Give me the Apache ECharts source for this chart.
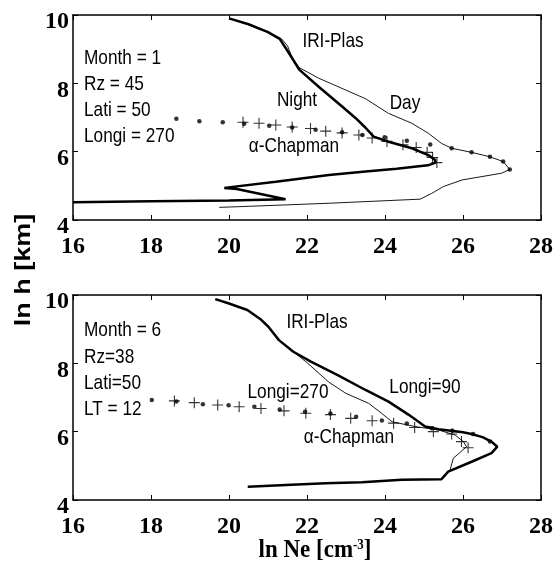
<!DOCTYPE html>
<html><head><meta charset="utf-8">
<script src="https://cdn.jsdelivr.net/npm/echarts@6/dist/echarts.min.js"></script>
<style>html,body{margin:0;padding:0;background:#fff}#c{width:556px;height:567px}</style>
</head><body><div id="c"></div>
<script>
// axis ticks
const xTicks = [16, 18, 20, 22, 24, 26, 28];
const yTicks = [4, 6, 8, 10];

// Top panel (Month = 1): IRI-Plas night (thick) and day (thin)
const topNight = [[20.0,9.9],[20.5,9.73],[21.0,9.5],[21.3,9.3],[21.54,8.88],[21.8,8.4],[22.3,7.9],[22.9,7.32],[23.25,6.98],[23.5,6.7],[23.71,6.44],[24.09,6.29],[24.69,6.1],[25.11,5.9],[25.28,5.76],[25.3,5.68],[25.1,5.6],[24.3,5.5],[23.5,5.42],[22.56,5.32],[21.2,5.12],[19.88,4.94],[20.2,4.91],[21.45,4.61],[20.0,4.57],[18.0,4.55],[16.0,4.52]];
const topDay = [[20.0,9.9],[20.5,9.73],[21.0,9.5],[21.35,9.3],[21.5,9.1],[21.62,8.75],[21.8,8.46],[22.3,8.15],[23.0,7.8],[23.5,7.55],[24.09,7.12],[24.69,6.83],[25.11,6.54],[25.45,6.24],[25.71,6.1],[26.22,5.98],[26.69,5.85],[27.03,5.71],[27.2,5.48],[26.99,5.37],[25.97,5.17],[25.5,4.98],[25.2,4.78],[24.9,4.61],[22.56,4.49],[20.26,4.39],[19.75,4.37]];
// Top panel alpha-Chapman: dots (day) and pluses (night)
const topDots = [[18.65,6.96],[19.24,6.89],[19.84,6.86],[20.39,6.82],[21.03,6.76],[21.62,6.71],[22.22,6.64],[22.9,6.57],[23.42,6.49],[23.99,6.42],[24.56,6.32],[25.16,6.21],[25.71,6.1],[26.22,5.98],[26.69,5.85],[27.03,5.71],[27.2,5.48]];
const topPlus = [[20.36,6.86],[20.77,6.83],[21.2,6.78],[21.62,6.72],[22.09,6.68],[22.48,6.6],[22.9,6.55],[23.33,6.49],[23.67,6.4],[24.05,6.3],[24.46,6.2],[24.8,6.12],[25.08,5.98],[25.22,5.83],[25.33,5.68]];

// Bottom panel (Month = 6): IRI-Plas Longi=90 (thick) and Longi=270 (thin)
const botL90 = [[19.65,9.88],[20.0,9.75],[20.47,9.56],[20.8,9.3],[21.01,9.07],[21.28,8.68],[21.65,8.34],[22.1,8.05],[22.8,7.65],[23.5,7.22],[24.09,6.88],[24.6,6.5],[25.03,6.15],[25.37,6.07],[26.0,5.98],[26.22,5.93],[26.5,5.84],[26.73,5.71],[26.88,5.56],[26.73,5.37],[26.22,5.12],[25.62,4.83],[25.45,4.61],[24.43,4.59],[23.41,4.52],[22.48,4.49],[21.46,4.44],[20.48,4.39]];
const botL270 = [[19.65,9.88],[20.0,9.75],[20.47,9.56],[20.8,9.3],[21.01,9.07],[21.28,8.68],[21.65,8.34],[22.0,8.02],[22.56,7.45],[23.0,7.12],[23.58,6.83],[23.9,6.55],[24.18,6.29],[24.77,6.15],[25.37,6.05],[25.8,5.9],[26.01,5.71],[26.09,5.56],[25.75,5.22],[25.67,4.88],[25.62,4.83]];
// Bottom panel alpha-Chapman
const botDots = [[18.02,6.93],[18.65,6.88],[19.33,6.8],[19.99,6.77],[20.65,6.73],[21.3,6.65],[21.95,6.58],[22.6,6.53],[23.26,6.44],[23.92,6.33],[24.56,6.24],[25.2,6.1],[25.73,6.03],[26.26,5.93],[26.69,5.71]];
const botPlus = [[18.6,6.9],[19.11,6.85],[19.71,6.78],[20.26,6.73],[20.82,6.68],[21.41,6.61],[21.97,6.54],[22.6,6.5],[23.12,6.39],[23.67,6.32],[24.22,6.25],[24.76,6.12],[25.24,6.0],[25.71,5.93],[25.96,5.71],[26.13,5.53]];

// annotation texts
const topInfo = ['Month = 1', 'Rz = 45', 'Lati = 50', 'Longi = 270'];
const botInfo = ['Month = 6', 'Rz=38', 'Lati=50', 'LT = 12'];

const chart = echarts.init(document.getElementById('c'), null, {renderer: 'canvas'});
const xMin = xTicks[0], xMax = xTicks[xTicks.length-1], xInt = xTicks[1]-xTicks[0];
const yMin = yTicks[0], yMax = yTicks[yTicks.length-1], yInt = yTicks[1]-yTicks[0];
const tickFont = {fontFamily: '"Liberation Serif", "Times New Roman", serif', fontWeight: 'bold', fontSize: 24, color: '#000'};

function xAx(grid, pos, labels) {
  return {type: 'value', gridIndex: grid, position: pos, min: xMin, max: xMax, interval: xInt,
    axisLine: {show: true, onZero: false, lineStyle: {color: '#000', width: 1.5}},
    axisTick: {show: true, inside: true, length: 5, lineStyle: {color: '#000', width: 1}},
    axisLabel: Object.assign({show: labels, margin: 15}, tickFont),
    splitLine: {show: false}};
}
function yAx(grid, pos, labels) {
  return {type: 'value', gridIndex: grid, position: pos, min: yMin, max: yMax, interval: yInt,
    axisLine: {show: true, onZero: false, lineStyle: {color: '#000', width: 1.5}},
    axisTick: {show: true, inside: true, length: 5, lineStyle: {color: '#000', width: 1}},
    axisLabel: Object.assign({show: labels, margin: 4, verticalAlign: 'top', lineHeight: 14}, tickFont),
    splitLine: {show: false}};
}
const plusPath = 'path://M9,0H11V9H20V11H11V20H9V11H0V9H9Z';
function line(data, xi, w) {
  return {type: 'line', xAxisIndex: xi, yAxisIndex: xi, data: data, symbol: 'none', smooth: false,
    lineStyle: {color: '#000', width: w}, z: 3};
}
function dots(data, xi) {
  return {type: 'scatter', xAxisIndex: xi, yAxisIndex: xi, data: data, symbol: 'circle', symbolSize: 4.5,
    itemStyle: {color: '#000'}, z: 4};
}
function plus(data, xi) {
  return {type: 'scatter', xAxisIndex: xi, yAxisIndex: xi, data: data, symbol: plusPath, symbolSize: 11,
    itemStyle: {color: '#000'}, z: 4};
}
const sansFont = '21px "Liberation Sans", Arial, sans-serif';
function txt(x, y, text, align) {
  return {type: 'text', x: x, y: y, scaleX: 0.82, z: 10,
    style: {text: text, x: 0, y: 0, font: sansFont, fill: '#000',
      textAlign: align, align: align, textVerticalAlign: 'middle', verticalAlign: 'middle'}};
}
const graphics = [];
const topInfoY = [58, 84, 110, 136];
const botInfoY = [330, 357, 383, 409];
topInfo.forEach((t, i) => graphics.push(txt(84, topInfoY[i], t, 'left')));
botInfo.forEach((t, i) => graphics.push(txt(84, botInfoY[i], t, 'left')));
graphics.push(txt(333, 41, 'IRI-Plas', 'center'));
graphics.push(txt(297, 100, 'Night', 'center'));
graphics.push(txt(405, 103, 'Day', 'center'));
graphics.push(txt(294, 146, '\u03b1-Chapman', 'center'));
graphics.push(txt(317, 322, 'IRI-Plas', 'center'));
graphics.push(txt(288, 392, 'Longi=270', 'center'));
graphics.push(txt(425, 387, 'Longi=90', 'center'));
graphics.push(txt(349, 437, '\u03b1-Chapman', 'center'));
graphics.push({type: 'text', x: 24, y: 270, rotation: Math.PI / 2, scaleY: 0.8, z: 10,
  style: {text: 'ln h [km]', x: 0, y: 0, font: 'bold 27px "Liberation Sans", Arial, sans-serif', fill: '#000',
    textAlign: 'center', align: 'center', textVerticalAlign: 'middle', verticalAlign: 'middle'}});
graphics.push({type: 'text', x: 315, y: 551, scaleX: 0.92, z: 10,
  style: {text: 'ln Ne [cm{s|-3}]', x: 0, y: 0, font: 'bold 25px "Liberation Serif", "Times New Roman", serif', fill: '#000',
    textAlign: 'center', align: 'center', textVerticalAlign: 'middle', verticalAlign: 'middle',
    rich: {s: {font: 'bold 14px "Liberation Serif", serif', fontSize: 14, fontWeight: 'bold', fontFamily: '"Liberation Serif", serif', verticalAlign: 'top', padding: [0, 0, 12, 0]}}}});

chart.setOption({
  animation: false,
  backgroundColor: '#fff',
  grid: [
    {left: 73, top: 15, width: 470, height: 205, show: false},
    {left: 73, top: 295, width: 470, height: 205, show: false}
  ],
  xAxis: [xAx(0, 'bottom', true), xAx(0, 'top', false), xAx(1, 'bottom', true), xAx(1, 'top', false)],
  yAxis: [yAx(0, 'left', true), yAx(0, 'right', false), yAx(1, 'left', true), yAx(1, 'right', false)],
  series: [
    line(topDay, 0, 0.9), line(topNight, 0, 2.5), dots(topDots, 0), plus(topPlus, 0),
    line(botL270, 2, 0.9), line(botL90, 2, 2.5), dots(botDots, 2), plus(botPlus, 2)
  ],
  graphic: graphics
});
</script></body></html>
